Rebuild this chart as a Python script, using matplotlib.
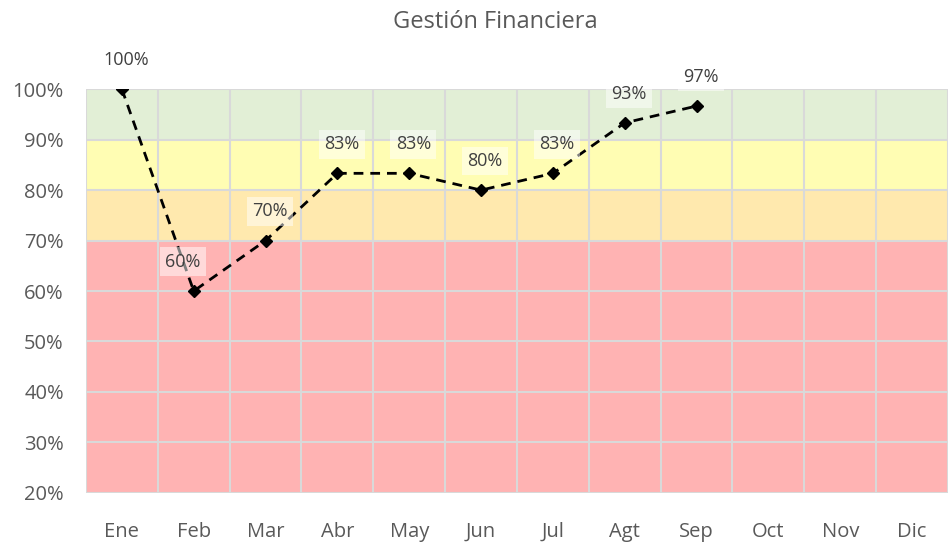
import matplotlib.pyplot as plt
import numpy as np

meses = ["Ene", "Feb", "Mar", "Abr", "May", "Jun", "Jul", "Agt", "Sep", "Oct", "Nov", "Dic"]
valores = [1.0, 0.60, 0.70, 0.8333, 0.8333, 0.80, 0.8333, 0.9333, 0.9667]

# bandas de semaforo (desde, hasta, color)
bandas = [(0.0, 0.70, "#ffb3b3"), (0.70, 0.80, "#ffe9ae"),
          (0.80, 0.90, "#fffdb3"), (0.90, 1.00, "#e2efd6")]

plt.rcParams['font.family'] = ['Open Sans', 'DejaVu Sans']

fig = plt.figure(figsize=(9.48, 5.44), dpi=100)
ax = fig.add_axes([0.0907, 0.094, 0.9093, 0.742])

x = np.arange(len(meses))
for lo, hi, col in bandas:
    ax.bar(x, hi - lo, bottom=lo, width=1.0, color=col, zorder=1)

# rejilla
for v in np.arange(-0.5, len(meses), 1.0):
    ax.axvline(v, color="#d9d9d9", lw=1.5, zorder=2)
for t in np.arange(0.2, 1.01, 0.1):
    ax.axhline(t, color="#d9d9d9", lw=1.5, zorder=2)

xs = x[:len(valores)]
ax.plot(xs, valores, ls=(0, (3.5, 2.5)), color="black", lw=2, marker="D", ms=6, zorder=4)

for xi, v in zip(xs, valores):
    dx = -8 if xi == 1 else 3
    ax.annotate(f"{v*100:.0f}%", (xi, v), xytext=(dx, 21), textcoords="offset points",
                ha="center", va="center", fontsize=13, color="#404040", zorder=5,
                bbox=dict(boxstyle="square,pad=0.3", fc="white", ec="none", alpha=0.5))

ax.set_xlim(-0.5, len(meses) - 0.5)
ax.set_ylim(0.2, 1.0)
ax.set_xticks(x)
ax.set_xticklabels(meses)
ax.set_yticks(np.arange(0.2, 1.01, 0.1))
ax.set_yticklabels([f"{t*100:.0f}%" for t in np.arange(0.2, 1.01, 0.1)])
ax.tick_params(length=0, labelsize=14.5, colors="#595959", pad=16)
ax.tick_params(axis="x", pad=21)
for s in ax.spines.values():
    s.set_visible(False)

fig.text(0.522, 0.96, "Gestión Financiera", ha="center", va="center", fontsize=17, color="#595959")

fig.savefig("out.png")
